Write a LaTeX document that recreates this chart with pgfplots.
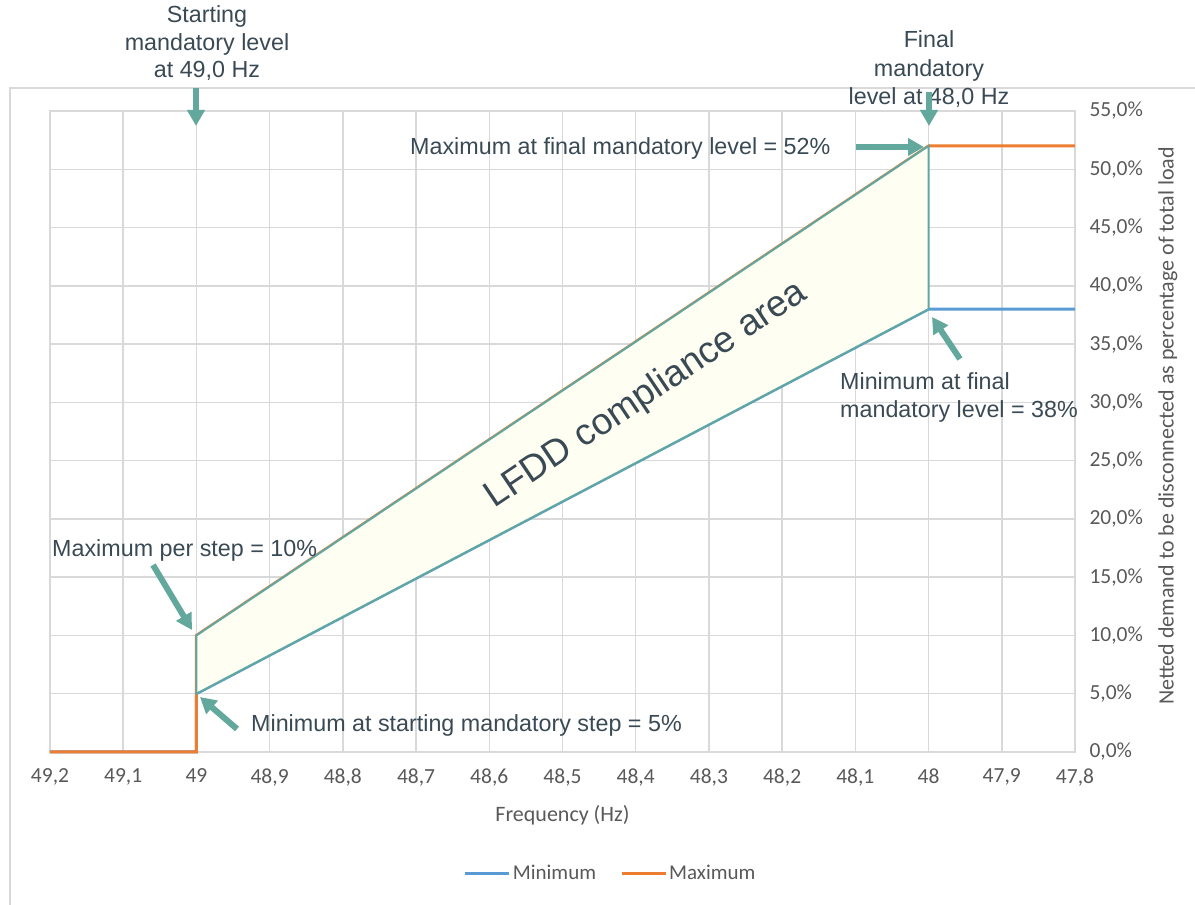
\documentclass[border=0pt]{standalone}
\usepackage{pgfplots}
\pgfplotsset{compat=1.18}
\usepackage{fontspec}
\setmainfont{Liberation Sans}
\newfontfamily\calibri{Carlito}
\usetikzlibrary{arrows.meta}

\definecolor{gridgray}{HTML}{D9D9D9}
\definecolor{ticktext}{HTML}{595959}
\definecolor{notetext}{HTML}{3A4A55}
\definecolor{minblue}{HTML}{5B9BD5}
\definecolor{maxorange}{HTML}{ED7D31}
\definecolor{areateal}{HTML}{5FA7A0}
\definecolor{arrowteal}{HTML}{62A89C}
\definecolor{areafill}{HTML}{FEFEF2}

\tikzset{
  note/.style={font=\fontsize{23.3}{28}\selectfont, text=notetext, inner sep=0pt},
  callout/.style={arrowteal, line width=6pt, -{Triangle[length=16pt,width=17pt]}}
}

\begin{document}
\begin{tikzpicture}[x=1pt,y=1pt]
\useasboundingbox (0,0) rectangle (1195,905);
% chart area frame
\draw[gridgray, line width=1.5pt] (10,-10) -- (10,817) -- (1210,817);

\begin{axis}[
  at={(50pt,153pt)}, anchor=south west,
  width=1025pt, height=641pt, scale only axis,
  x dir=reverse,
  xmin=47.8, xmax=49.2, ymin=0, ymax=55,
  xtick={47.8,47.9,48,48.1,48.2,48.3,48.4,48.5,48.6,48.7,48.8,48.9,49,49.1,49.2},
  ytick={0,5,10,15,20,25,30,35,40,45,50,55},
  grid=major,
  major grid style={gridgray, line width=1.5pt},
  axis line style={gridgray, line width=1.5pt},
  major tick length=0pt,
  /pgf/number format/assume math mode=true,
  /pgf/number format/use comma,
  /pgf/number format/1000 sep={},
  xticklabel style={font=\calibri\fontsize{21.5}{25}\selectfont, text=ticktext, yshift=-13pt},
  yticklabel pos=right,
  yticklabel={\pgfmathprintnumber[fixed,fixed zerofill,precision=1,use comma]{\tick}\%},
  yticklabel style={font=\calibri\fontsize{21.5}{25}\selectfont, text=ticktext, anchor=west, xshift=11pt},
  xlabel={Frequency (Hz)},
  every axis x label/.style={at={(axis description cs:0.5,-0.0983)}, anchor=center,
    font=\calibri\fontsize{22}{26}\selectfont, text=ticktext},
  ylabel={Netted demand to be disconnected as percentage of total load},
  every axis y label/.style={at={(axis description cs:1.0907,0.5086)}, rotate=90, anchor=center,
    font=\calibri\fontsize{22}{26}\selectfont, text=ticktext},
  legend columns=2,
  legend style={at={(axis description cs:0.547,-0.1888)}, anchor=center, draw=none, fill=none,
    font=\calibri\fontsize{21}{25}\selectfont, text=ticktext,
    /tikz/every even column/.append style={column sep=22pt}},
  legend image code/.code={\draw[#1, line width=3pt] (0pt,0pt) -- (44pt,0pt);},
  clip=false,
]
% minimum share to be disconnected
\addplot[minblue, line width=3pt] coordinates {
  (49.2,0) (49,0) (49,5) (48,38) (47.8,38)
};
\addlegendentry{Minimum}
% maximum share to be disconnected
\addplot[maxorange, line width=3pt] coordinates {
  (49.2,0) (49,0) (49,10) (48,52) (47.8,52)
};
\addlegendentry{Maximum}
% compliance band between the two limits
\addplot[draw=areateal, line width=2pt, fill=areafill, forget plot] coordinates {
  (49,10) (48,52) (48,38) (49,5)
} -- cycle;
\end{axis}

% band label
\node[font=\fontsize{37}{45}\selectfont, text=notetext, anchor=base, rotate=33.9, inner sep=0pt]
  at (652,502) {LFDD compliance area};

% notes above the chart
\node[note, anchor=base] at (207,882) {Starting};
\node[note, anchor=base] at (207,854) {mandatory level};
\node[note, anchor=base] at (207,827) {at 49,0 Hz};
\node[note, anchor=base] at (929,857) {Final};
\node[note, anchor=base] at (929,828) {mandatory};
\node[note, anchor=base] at (929,800) {level at 48,0 Hz};

% notes inside the plot
\node[note, anchor=base west] at (410,750) {Maximum at final mandatory level = 52\%};
\node[note, anchor=base west] at (52,348) {Maximum per step = 10\%};
\node[note, anchor=base west] at (251,173) {Minimum at starting mandatory step = 5\%};
\node[note, anchor=base west] at (840,515) {Minimum at final};
\node[note, anchor=base west] at (840,487) {mandatory level = 38\%};

% callout arrows
\draw[callout] (196,817) -- (196,779);
\draw[callout] (929,813) -- (929,779);
\draw[callout] (856,758) -- (924,758);
\draw[callout] (153,340) -- (192,275);
\draw[callout] (237,176) -- (200,208);
\draw[callout] (960,546) -- (932,588);
\end{tikzpicture}
\end{document}
